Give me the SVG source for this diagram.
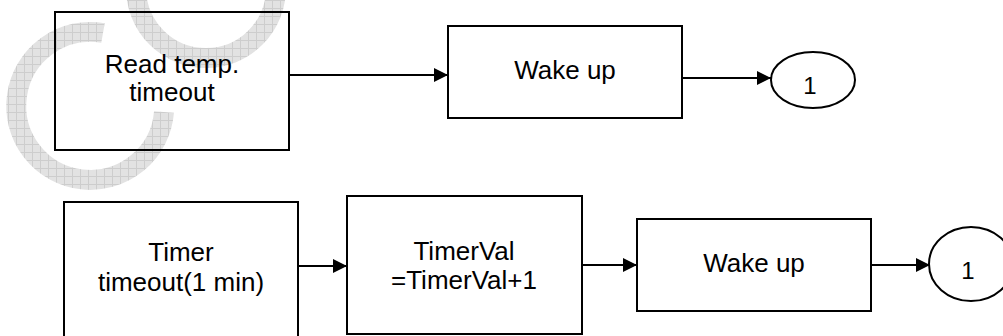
<svg xmlns="http://www.w3.org/2000/svg" width="1003" height="336" viewBox="0 0 1003 336">
<style>
.box{fill:none;stroke:#000;stroke-width:2}
.lbl{font-family:"Liberation Sans",Arial,sans-serif;font-size:26px;fill:#000;text-anchor:middle}
.num{font-family:"Liberation Sans",Arial,sans-serif;font-size:24px;fill:#000;text-anchor:middle}
.conn{fill:none;stroke:#000;stroke-width:2}
.wm{fill:none;stroke:url(#grid);stroke-width:20}
</style>
<defs>
<pattern id="grid" width="8" height="8" patternUnits="userSpaceOnUse">
<rect width="8" height="8" fill="#e2e2e2"/>
<path d="M0 0.5H8M0.5 0V8" stroke="#cdcdcd" stroke-width="1"/>
</pattern>
<marker id="arr" markerUnits="userSpaceOnUse" markerWidth="14" markerHeight="14" refX="14" refY="7" orient="auto">
<path d="M0 0L14 7L0 14z" fill="#000"/>
</marker>
</defs>
<rect width="1003" height="336" fill="#fff"/>
<g id="watermark">
<path class="wm" d="M103 33A74 74 0 1 0 164 112"/>
<path class="wm" d="M136 -12A70 70 0 1 0 276 -12"/>
</g>
<g id="connectors">
<path class="conn" d="M289 75H448" marker-end="url(#arr)"/>
<path class="conn" d="M682 78H771" marker-end="url(#arr)"/>
<path class="conn" d="M298 266H347" marker-end="url(#arr)"/>
<path class="conn" d="M582 265H637" marker-end="url(#arr)"/>
<path class="conn" d="M871 265H930" marker-end="url(#arr)"/>
</g>
<g id="n-readtemp">
<rect class="box" x="55" y="12" width="234" height="138"/>
<text class="lbl" x="172" y="73">Read temp.</text>
<text class="lbl" x="172" y="101">timeout</text>
</g>
<g id="n-wake1">
<rect class="box" x="448" y="26" width="234" height="92"/>
<text class="lbl" x="565" y="79">Wake up</text>
</g>
<g id="n-conn1a">
<ellipse class="box" cx="813" cy="80" rx="42" ry="28"/>
<text class="num" x="810" y="94">1</text>
</g>
<g id="n-timer">
<rect class="box" x="64" y="202" width="234" height="140"/>
<text class="lbl" x="181" y="261">Timer</text>
<text class="lbl" x="181" y="291">timeout(1 min)</text>
</g>
<g id="n-timerval">
<rect class="box" x="347" y="196" width="235" height="138"/>
<text class="lbl" x="464" y="260">TimerVal</text>
<text class="lbl" x="464" y="289">=TimerVal+1</text>
</g>
<g id="n-wake2">
<rect class="box" x="637" y="219" width="234" height="92"/>
<text class="lbl" x="754" y="272">Wake up</text>
</g>
<g id="n-conn1b">
<ellipse class="box" cx="971" cy="264" rx="42" ry="37"/>
<text class="num" x="968" y="279">1</text>
</g>
</svg>
